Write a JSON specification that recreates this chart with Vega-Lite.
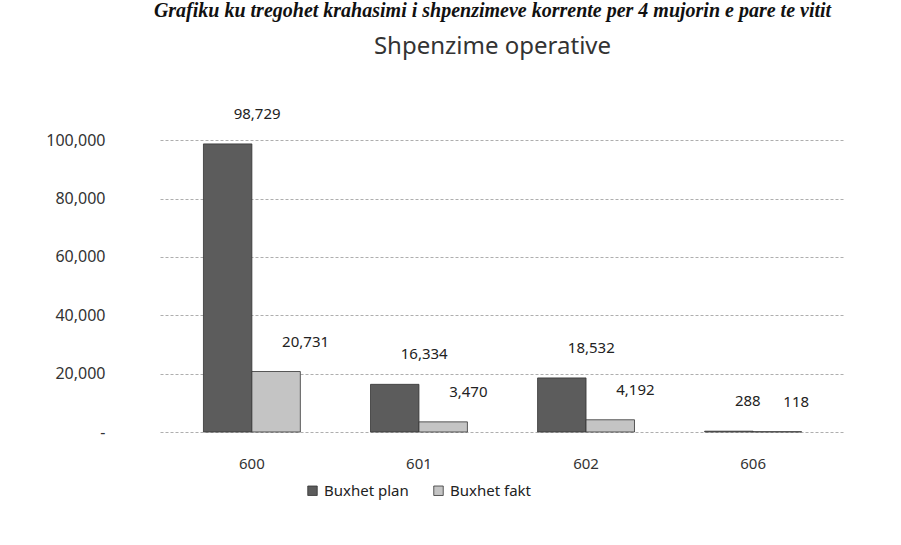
{
  "$schema": "https://vega.github.io/schema/vega-lite/v6.json",
  "width": 685,
  "height": 321,
  "padding": {"left": 45, "top": 0, "right": 10, "bottom": 5},
  "background": "white",
  "title": {
    "text": "Grafiku ku tregohet krahasimi i shpenzimeve korrente per 4 mujorin e pare te vitit",
    "subtitle": "Shpenzime operative",
    "anchor": "middle",
    "font": "Liberation Serif",
    "fontSize": 20,
    "fontStyle": "italic",
    "fontWeight": "bold",
    "color": "#111",
    "subtitleFont": "Noto Sans",
    "subtitleFontSize": 24,
    "subtitleColor": "#333",
    "subtitlePadding": 14,
    "offset": 48,
    "dx": -10
  },
  "data": {
    "values": [
      {"kod": "600", "seria": "Buxhet plan", "vlera": 98729},
      {"kod": "600", "seria": "Buxhet fakt", "vlera": 20731},
      {"kod": "601", "seria": "Buxhet plan", "vlera": 16334},
      {"kod": "601", "seria": "Buxhet fakt", "vlera": 3470},
      {"kod": "602", "seria": "Buxhet plan", "vlera": 18532},
      {"kod": "602", "seria": "Buxhet fakt", "vlera": 4192},
      {"kod": "606", "seria": "Buxhet plan", "vlera": 288},
      {"kod": "606", "seria": "Buxhet fakt", "vlera": 118}
    ]
  },
  "encoding": {
    "x": {
      "field": "kod", "type": "nominal", "title": null,
      "scale": {"paddingInner": 0.42, "paddingOuter": 0.26},
      "axis": {"labelAngle": 0, "domain": false, "ticks": false, "labelPadding": 24, "labelFontSize": 15, "labelFont": "Noto Sans", "labelColor": "#333", "grid": false}
    },
    "xOffset": {"field": "seria", "type": "nominal", "sort": ["Buxhet plan", "Buxhet fakt"]},
    "y": {
      "field": "vlera", "type": "quantitative", "title": null,
      "scale": {"domain": [0, 110000], "nice": false},
      "axis": {"values": [0, 20000, 40000, 60000, 80000, 100000], "labelExpr": "datum.value == 0 ? '-' : format(datum.value, ',')", "domain": false, "ticks": false, "labelPadding": 55, "labelFontSize": 16, "labelFont": "Noto Sans", "labelColor": "#333", "gridDash": [3, 2], "gridColor": "#999", "gridWidth": 0.8}
    }
  },
  "layer": [
    {
      "mark": {"type": "bar", "stroke": "#333", "strokeWidth": 0.8},
      "encoding": {
        "color": {
          "field": "seria", "type": "nominal",
          "scale": {"domain": ["Buxhet plan", "Buxhet fakt"], "range": ["#5c5c5c", "#c4c4c4"]},
          "legend": {"orient": "none", "legendX": 145, "legendY": 372, "direction": "horizontal", "title": null, "symbolType": "square", "symbolSize": 90, "symbolStrokeColor": "#333", "symbolStrokeWidth": 0.8, "labelFont": "Noto Sans", "labelFontSize": 15, "labelColor": "#222", "columnPadding": 22}
        }
      }
    },
    {
      "mark": {"type": "text", "align": "left", "baseline": "bottom", "dx": 6, "dy": -22, "font": "Noto Sans", "fontSize": 15, "color": "#222"},
      "encoding": {
        "text": {"field": "vlera", "type": "quantitative", "format": ","}
      }
    }
  ],
  "config": {"view": {"stroke": null}}
}
